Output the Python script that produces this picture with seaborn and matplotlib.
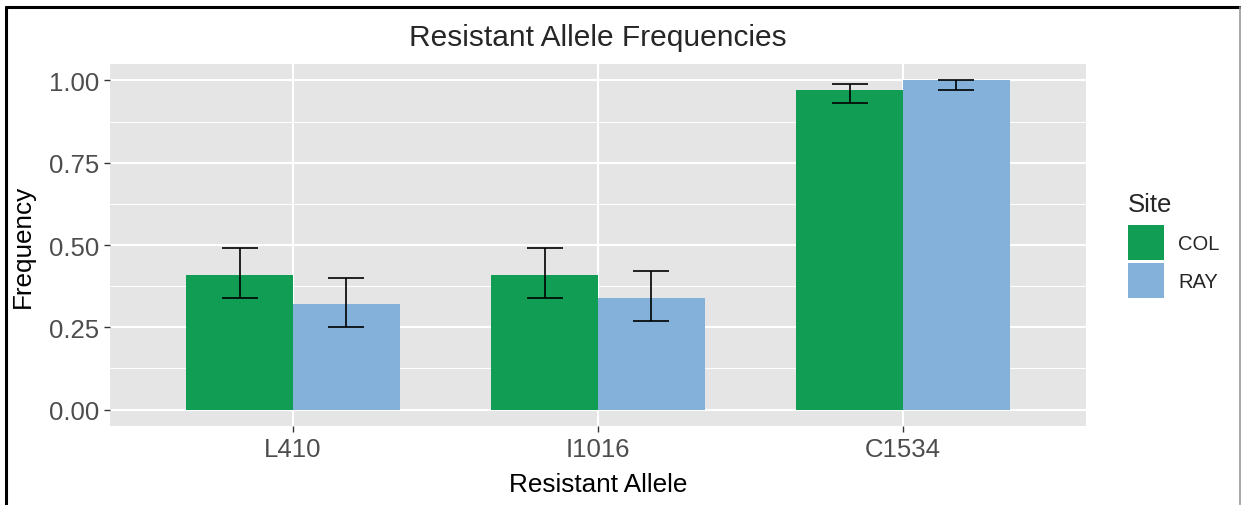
import numpy as np
import pandas as pd
import matplotlib
matplotlib.use("Agg")
import matplotlib.pyplot as plt
import seaborn as sns
from matplotlib.patches import Patch
from matplotlib.lines import Line2D

# values
alleles = ["L410", "I1016", "C1534"]
sites = ["COL", "RAY"]
freq_col = [0.41, 0.41, 0.97]
freq_ray = [0.32, 0.34, 1.00]
lower_col = [0.34, 0.34, 0.93]
upper_col = [0.49, 0.49, 0.99]
lower_ray = [0.25, 0.27, 0.97]
upper_ray = [0.40, 0.42, 1.00]
site_colors = {"COL": "#129D55", "RAY": "#83B1DA"}

df = pd.DataFrame({
    "Allele": alleles * 2,
    "Site": ["COL"] * 3 + ["RAY"] * 3,
    "Frequency": freq_col + freq_ray,
    "Lower": lower_col + lower_ray,
    "Upper": upper_col + upper_ray,
})

sns.set_theme(style="white")
plt.rcParams["font.family"] = ["Liberation Sans", "DejaVu Sans"]

fig = plt.figure(figsize=(12.41, 5.06), dpi=100)
ax = fig.add_axes([110 / 1241, (506 - 427) / 506, 976 / 1241, 362 / 506])
ax.set_facecolor("#E5E5E5")

sns.barplot(data=df, x="Allele", y="Frequency", hue="Site", order=alleles,
            hue_order=sites, palette=site_colors, width=0.7, gap=0,
            saturation=1, errorbar=None, legend=False, linewidth=0,
            ax=ax, zorder=2)

# error bars centred on each bar
for cont, site in zip(ax.containers, sites):
    sub = df[df["Site"] == site].set_index("Allele").loc[alleles]
    xs = [p.get_x() + p.get_width() / 2 for p in cont.patches]
    ys = sub["Frequency"].values
    yerr = [ys - sub["Lower"].values, sub["Upper"].values - ys]
    ax.errorbar(xs, ys, yerr=yerr, fmt="none", ecolor="black",
                elinewidth=1.2, capsize=13.3, capthick=1.2, zorder=3)

ax.set_xlim(-0.6, 2.6)
ax.set_ylim(-0.05, 1.05)
ax.set_yticks([0, 0.25, 0.5, 0.75, 1.0])
ax.set_yticklabels(["0.00", "0.25", "0.50", "0.75", "1.00"])
ax.set_yticks([0.125, 0.375, 0.625, 0.875], minor=True)

ax.grid(True, which="major", color="white", linewidth=1.5, zorder=0)
ax.grid(True, which="minor", axis="y", color="white", linewidth=0.7, zorder=0)
ax.set_axisbelow(True)
for s in ax.spines.values():
    s.set_visible(False)

ax.tick_params(axis="both", which="major", labelsize=18.5, labelcolor="#4D4D4D",
               color="#333333", length=4, width=1, pad=4)
ax.tick_params(which="minor", length=0)
ax.tick_params(axis="x", bottom=True)
ax.tick_params(axis="y", left=True)

ax.set_xlabel("Resistant Allele", fontsize=18.8, color="black")
ax.set_ylabel("Frequency", fontsize=18.8, color="black")
ax.xaxis.set_label_coords(0.5, -0.128)
ax.yaxis.set_label_coords(-0.077, 0.5)
ax.set_title("Resistant Allele Frequencies", fontsize=21.5, pad=14)

handles = [Patch(facecolor=site_colors[s], edgecolor="none", label=s) for s in sites]
leg = fig.legend(handles=handles, title="Site", loc="upper left",
                 bbox_to_anchor=(1118 / 1241, 1 - 183 / 506), frameon=False,
                 fontsize=14.5, title_fontsize=18.5, handlelength=1.8,
                 handleheight=2.3, labelspacing=0.15, handletextpad=0.7,
                 borderpad=0, alignment="left")
leg._legend_box.sep = 6.5  # more room between "Site" and the keys

# outer frame of the original screenshot
fig.add_artist(Line2D([6 / 1241, 6 / 1241], [0, 1 - 8 / 506], transform=fig.transFigure,
                      color="black", lw=2.2))
fig.add_artist(Line2D([6 / 1241, 1240 / 1241], [1 - 8 / 506, 1 - 8 / 506],
                      transform=fig.transFigure, color="black", lw=2.2))
fig.add_artist(Line2D([1240 / 1241, 1240 / 1241], [0, 1 - 8 / 506], transform=fig.transFigure,
                      color="#999999", lw=1.2))

fig.savefig("out.png", dpi=100)
